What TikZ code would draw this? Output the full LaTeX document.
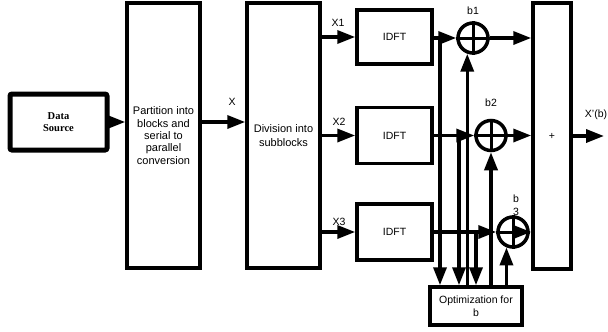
\documentclass[tikz,border=0pt]{standalone}
\usepackage{fontspec}
\setmainfont{Liberation Sans}
\newfontfamily\dsfont{Liberation Serif}
\usetikzlibrary{arrows.meta,calc}
\begin{document}
\begin{tikzpicture}[x=1pt,y=-1pt,
  box/.style={draw, line width=3.5pt, inner sep=1pt, align=center, font=\fontsize{10.5}{12.5}\selectfont},
  adder/.style={draw, circle, line width=3.5pt, minimum size=30pt, inner sep=0pt},
  arr/.style={line width=3.5pt, -{Triangle[length=18pt,width=13pt]}},
  lbl/.style={font=\fontsize{10.5}{12}\selectfont, inner sep=0pt}]
\useasboundingbox (0,0) rectangle (608,332);
% blocks
\node[box, line width=5pt, rounded corners=2pt, minimum width=97pt, minimum height=56pt,
      font=\dsfont\bfseries\fontsize{10.5}{12.5}\selectfont] (ds) at (58.5,122) {Data\\Source};
\node[box, minimum width=73pt, minimum height=265pt, font=\fontsize{11}{12.3}\selectfont] (part) at (163.5,135.5)
  {Partition into\\blocks and\\serial to\\parallel\\conversion};
\node[box, minimum width=73pt, minimum height=265pt, font=\fontsize{11}{13.5}\selectfont] (div) at (283.5,135.5)
  {Division into\\subblocks};
\node[box, minimum width=75pt, minimum height=54pt] (i1) at (394.5,37) {IDFT};
\node[box, minimum width=75pt, minimum height=56pt] (i2) at (394.5,135.5) {IDFT};
\node[box, minimum width=75pt, minimum height=56pt] (i3) at (394.5,232) {IDFT};
\node[box, minimum width=38pt, minimum height=266pt] (sum) at (552,136) {+};
\node[box, minimum width=92pt, minimum height=38pt] (opt) at (476,306) {Optimization for\\b};
% adders
\node[adder] (b1) at (473,38) {};
\node[adder] (b2) at (491,135.5) {};
\node[adder] (b3) at (513,232) {};
\foreach \b in {b1,b2,b3}{
  \draw[line width=3pt] (\b.north) -- (\b.south) (\b.west) -- (\b.east);
}
% labels
\node[lbl] (lx) at (232,102) {X};
\node[lbl] (lx1) at (338,23) {X1};
\node[lbl] (lx2) at (339,122) {X2};
\node[lbl] (lx3) at (339,222) {X3};
\node[lbl] (lb1) at (473,11) {b1};
\node[lbl] (lb2) at (491,103) {b2};
\node[lbl, align=center, font=\fontsize{10.5}{12.5}\selectfont] (lb3) at (516,205) {b\\3};
\node[lbl] (lxo) at (596,115) {X'(b)};
% main flow
\draw[arr] (ds.east) -- (ds.east -| part.west);
\draw[arr] (part.east |- ds.east) -- (div.west |- ds.east);
\draw[arr] (div.east |- i1.west) -- (i1.west);
\draw[arr] (div.east |- i2.west) -- (i2.west);
\draw[arr] (div.east |- i3.west) -- (i3.west);
\draw[arr] (i1.east |- b1.west) -- (b1.west);
\draw[arr] (i2.east |- b2.west) -- (b2.west);
\draw[arr] (i3.east |- b3.west) -- (b3.west);
% branches to optimisation
\coordinate (t1) at (440,38);
\coordinate (t2) at (459,135.5);
\coordinate (t3) at (476,232);
\draw[arr] (t1) -- (t1 |- opt.north);
\draw[arr] (t2) -- (t2 |- opt.north);
\draw[arr] (t3) -- (t3 |- opt.north);
% weights back to adders
\draw[arr] (opt.north -| b1.-110) -- (b1.-110);
\draw[arr] (opt.north -| b2.south) -- (b2.south);
\draw[arr] (opt.north -| b3.-113) -- (b3.-113);
% adders to sum
\draw[arr] (b1.east) -- (b1.east -| sum.west);
\draw[arr] (b2.east) -- (b2.east -| sum.west);
\draw[arr] (b3.center) -- (b3.center -| sum.west);
\coordinate (out) at (604,136);
\draw[arr] (sum.east |- out) -- (out);
\end{tikzpicture}
\end{document}
